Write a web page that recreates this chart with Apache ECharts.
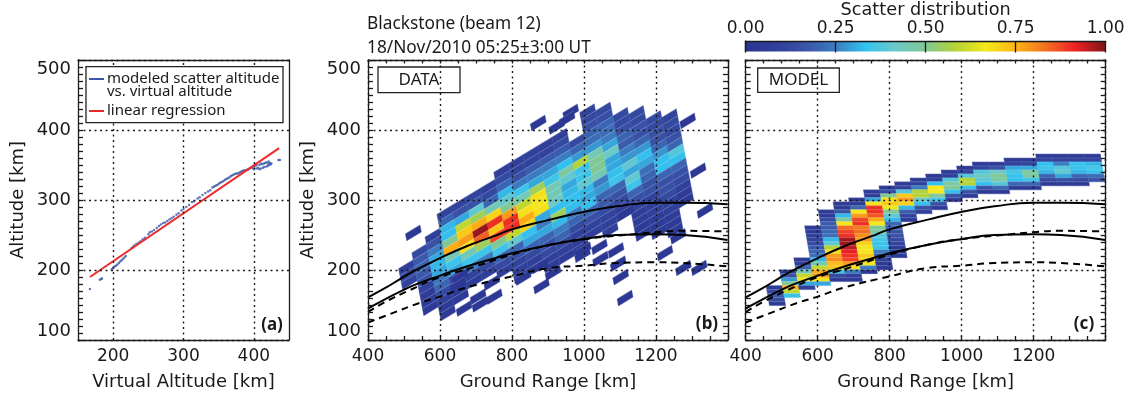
<!DOCTYPE html>
<html>
<head>
<meta charset="utf-8">
<style>
  html, body { margin: 0; background: #fff; }
  #chart { width: 1131px; height: 396px; }
</style>
<script src="https://cdn.jsdelivr.net/npm/echarts@6/dist/echarts.min.js"></script>
</head>
<body>
<div id="chart"></div>
<script>
// panel (a): virtual altitude vs scatter altitude
const virtualAlt = [167,181,183,184,198,200,202,204,206,208,210,212,214,216,218,226,228,230,233,236,239,242,245,250,252,255,258,262,265,268,271,274,277,280,283,286,290,293,297,300,304,308,312,315,320,323,327,331,335,338,341,343,345,347,349,351,353,355,357,359,361,363,365,367,369,371,373,375,377,379,381,383,385,387,389,391,392,394,396,398,400,400,402,404,404,406,408,408,410,410,412,413,414,415,416,418,418,420,420,421,422,423,424,425,435,437];
const scatterAlt = [173,186,187,188,201,203,205,206,208,210,212,214,216,218,220,231,233,235,237,239,241,244,246,251,254,255,257,260,263,265,267,268,270,272,274,276,279,281,285,287,290,293,297,298,302,304,307,310,312,314,318,319,320,321,322,324,325,326,327,329,330,331,332,334,335,336,337,338,338,339,340,341,342,342,343,343,344,345,346,346,348,344,349,345,350,346,350,344,352,345,351,346,352,347,353,348,354,349,352,355,350,353,351,352,357,357];
const regressionX = [167, 436];
const regressionY = [190, 374];
const panelAGridX = [200, 300, 400];

// panels (b) and (c): ionospheric layer curves, same in both
const curveRange = [400, 447, 489, 526, 600, 674, 748, 800, 906, 998, 1091, 1199, 1276, 1399];
const upperSolid = [161, 174, 187, 198, 217, 234, 248, 258, 272, 283, 291, 296, 296, 294];
const lowerSolid = [145, 158, 169, 178, 192, 205, 216, 224, 236, 244, 250, 251, 250, 243];
const upperDashRange = [400, 450, 511, 600, 674, 800, 906, 998, 1136, 1199, 1276, 1399];
const upperDash = [140, 155, 170, 190, 201, 222, 236, 244, 251, 254, 256, 255];
const lowerDashRange = [400, 461, 544, 600, 674, 800, 906, 998, 1091, 1199, 1276, 1399];
const lowerDash = [125, 137, 153, 162, 175, 191, 203, 206, 210, 211, 210, 205];

// panel (b) DATA: normalised scatter, one list per radar gate, top cell first
const dataTopRow = [2,3,4,6,6,6,6,7,7,7,7,7,5,8,7,5,4,2,1];
const dataCells = [
  [.08,.12,.1],
  [.12,.18,.2,.18,.15,.1,.06,.05,.05],
  [.08,.15,.25,.3,.32,.3,.25,.2,.12,.08,.05,.05],
  [.1,.2,.32,.33,.5,.76,.45,.35,.3,.1,.08,.06,.05],
  [.1,.15,.3,.6,.72,.78,.68,.45,.35,.25,.1,.06],
  [.1,.15,.4,.55,.76,.98,.85,.55,.35,.25,.12,.08],
  [.08,.12,.2,.45,.7,.9,.72,.88,.5,.35,.2,.12,.08],
  [.08,.12,.2,.32,.4,.5,.78,.9,.9,.6,.4,.2,.15,.1,.08,.06],
  [.08,.1,.15,.25,.35,.45,.6,.68,.76,.7,.33,.3,.2,.12,.08,.06],
  [.08,.1,.18,.25,.3,.55,.68,.67,.68,.3,.25,.3,.2,.15,.12,.08,.06],
  [.08,.1,.18,.25,.3,.35,.45,.45,.42,.33,.55,.32,.25,.2,.12,.08,.06],
  [.08,.12,.18,.25,.33,.48,.4,.3,.32,.33,.33,.25,.2,.12,.08,.06,.05,.05],
  [.12,.2,.28,.58,.35,.35,.4,.32,.3,.33,.2,.15,.1,.08],
  [.1,.12,.15,.2,.22,.28,.45,.5,.5,.45,.25,.28,.2,.18,.12,.1,.08,.08],
  [.12,.14,.2,.22,.25,.3,.42,.3,.3,.33,.35,.2,.15,.12,.08,.08],
  [.12,.12,.15,.2,.18,.25,.28,.4,.3,.4,.35,.2,.15,.1,.07,.07,.05,.05],
  [.12,.12,.16,.15,.2,.28,.33,.3,.22,.2,.15,.15,.1,.08,.08,.06,.05,.05],
  [.12,.12,.15,.15,.2,.28,.33,.33,.2,.15,.15,.12,.1,.08,.07,.05,.05],
  [.1,.12,.12,.15,.2,.38,.33,.2,.15,.12,.08,.06,.05]
];
// lone weak returns around the main patch
const loneRange = [873,924,963,953,526,1288,1317,1336,1114,1102,1095,1046,1089,1043,998,1117,1225,1262,1276,1320,667,706,711,751,744,882,656,831,914,878,650];
const loneAlt = [410,405,426,416,253,413,342,285,160,190,209,216,228,233,229,282,224,248,203,203,145,162,151,162,182,177,191,189,196,206,179];

// panel (c) MODEL: same idea, rows are flat
const modelTopRow = [34,30,27,19,15,13,12,10,9,8,7,6,5,4,3,3,2,2,1,1,1,1];
const modelCells = [
  [.05,.12,.18,.12,.06],
  [.05,.15,.28,.5,.76,.6,.35],
  [.05,.08,.2,.45,.6,.68,.3,.08],
  [.05,.05,.08,.1,.12,.18,.2,.22,.32,.45,.6,.76,.78,.68,.3],
  [.05,.05,.12,.18,.18,.2,.22,.32,.4,.58,.68,.78,.8,.74,.72,.35,.12,.05],
  [.05,.05,.15,.32,.48,.67,.84,.88,.9,.97,.98,.95,.92,.9,.88,.78,.68,.25,.08,.05],
  [.05,.05,.2,.67,.78,.88,.9,.82,.84,.8,.78,.7,.67,.67,.72,.7,.66,.25,.05],
  [.05,.06,.3,.67,.9,.9,.86,.76,.67,.5,.48,.38,.36,.34,.34,.25,.15,.08,.05,.04],
  [.05,.12,.5,.68,.72,.66,.5,.4,.32,.2,.18,.15,.15,.12,.1,.06,.05,.04],
  [.05,.08,.38,.72,.78,.7,.32,.18,.1,.05],
  [.05,.08,.25,.58,.58,.42,.33,.15,.08],
  [.05,.08,.33,.67,.67,.5,.35,.15,.06],
  [.05,.08,.38,.48,.5,.33,.15,.06],
  [.05,.1,.38,.58,.58,.33,.15,.05],
  [.05,.1,.38,.42,.4,.33,.15,.05],
  [.05,.15,.42,.5,.48,.38,.2,.05],
  [.05,.08,.3,.36,.34,.33,.2,.05],
  [.05,.1,.3,.48,.48,.35,.2,.05],
  [.05,.1,.33,.35,.32,.2,.12,.05],
  [.05,.1,.25,.38,.4,.3,.15,.05],
  [.05,.1,.34,.34,.32,.2,.12,.05],
  [.05,.1,.32,.36,.34,.22,.15]
];

const scatterColors = ["#2b3490","#2f3f9a","#3a55a8","#3b7cc0","#33c3f0","#6cc9c8","#80c896","#b5d335","#f5e91a","#fdb515","#f37021","#ed2024","#7d1416"];
const colorbarTicks = ["0.00", "0.25", "0.50", "0.75", "1.00"];

const labelFont = "DejaVu Sans";
const textFont = "Noto Sans";
const ink = "#1a1a1a";

// cell shape in km, gate step and row step are sheared in (b)
const dataStep = { x0: 496.1, y0: 172.1, wx: 40.4, wy: 12.54, hx: -3.7, hy: 9.97 };
const modelStep = { x0: 393.3, y0: 371.5, wx: 45, hx: 1.86, hy: -5.7 };

const dataPoints = [];
dataCells.forEach((col, c) => {
  col.forEach((v, i) => {
    const r = dataTopRow[c] - i;
    dataPoints.push([
      dataStep.x0 + dataStep.wx * c + dataStep.hx * r,
      dataStep.y0 + dataStep.wy * c + dataStep.hy * r,
      v,
    ]);
  });
});
loneRange.forEach((x, i) => {
  dataPoints.push([
    x - (dataStep.wx + dataStep.hx) / 2,
    loneAlt[i] - (dataStep.wy + dataStep.hy) / 2,
    0.03,
  ]);
});

const modelPoints = [];
modelCells.forEach((col, c) => {
  col.forEach((v, i) => {
    const k = modelTopRow[c] + i;
    modelPoints.push([modelStep.x0 + modelStep.wx * c + modelStep.hx * k, modelStep.y0 + modelStep.hy * k, v]);
  });
});

// filled cell plus one pale line along its upper edge
function cellItem(api, pts) {
  const px = pts.map((p) => api.coord(p));
  const color = api.visual("color");
  return {
    type: "group",
    children: [
      { type: "polygon", shape: { points: px }, style: { fill: color, stroke: color, lineWidth: 0.4 } },
      {
        type: "line",
        shape: { x1: px[3][0], y1: px[3][1], x2: px[2][0], y2: px[2][1] },
        style: { stroke: "rgba(255,255,255,0.24)", lineWidth: 0.7 },
      },
    ],
  };
}

function renderDataCell(params, api) {
  const x = api.value(0), y = api.value(1);
  const s = dataStep;
  return cellItem(api, [
    [x, y],
    [x + s.wx, y + s.wy],
    [x + s.wx + s.hx, y + s.wy + s.hy],
    [x + s.hx, y + s.hy],
  ]);
}

function renderModelCell(params, api) {
  const x = api.value(0), y = api.value(1);
  const s = modelStep;
  return cellItem(api, [
    [x + s.hx, y + s.hy],
    [x + s.wx + s.hx, y + s.hy],
    [x + s.wx, y],
    [x, y],
  ]);
}

function renderColorbar(params, api) {
  const a = api.coord([0, 1]), b = api.coord([1, 0]);
  return {
    type: "rect",
    shape: { x: a[0], y: a[1], width: b[0] - a[0], height: b[1] - a[1] },
    style: {
      fill: new echarts.graphic.LinearGradient(0, 0, 1, 0,
        scatterColors.map((c, i) => ({ offset: i / (scatterColors.length - 1), color: c }))),
    },
  };
}

const grids = [
  { left: 78, top: 60, width: 211, height: 280.7 },
  { left: 368, top: 60, width: 360, height: 280.7 },
  { left: 745.7, top: 60, width: 360, height: 280.7 },
  { left: 745.7, top: 40, width: 360, height: 11.5 },
];

const lineStyle = { color: ink, width: 1.3 };
const dotted = { show: true, lineStyle: { color: ink, type: [2, 3.5], width: 1.4 } };

function bottomAxis(grid, min, max, interval, name, minor) {
  return {
    type: "value", gridIndex: grid, min, max, interval, position: "bottom", z: 6,
    name, nameLocation: "middle", nameGap: 33,
    nameTextStyle: { fontFamily: labelFont, fontSize: 18, color: ink },
    axisLine: { onZero: false, lineStyle },
    axisTick: { show: minor > 0, inside: true, length: 4, lineStyle },
    minorTick: { show: minor > 0, splitNumber: minor || 5, length: 4, lineStyle },
    axisLabel: {
      fontFamily: labelFont, fontSize: 17, color: ink, margin: 8,
      showMinLabel: grid > 0, showMaxLabel: false,
      formatter: (v) => (v % 100 === 0 ? String(v) : ""),
    },
    splitLine: grid > 0 ? dotted : { show: false },
  };
}

function leftAxis(grid, showTitle) {
  return {
    type: "value", gridIndex: grid, min: 100, max: 500, interval: 100, position: "left", z: 6,
    name: showTitle ? "Altitude [km]" : "", nameLocation: "middle", nameGap: 51, nameRotate: 90,
    nameTextStyle: { fontFamily: labelFont, fontSize: 18, color: ink },
    axisLine: { onZero: false, lineStyle },
    axisTick: { show: true, inside: true, length: 5, lineStyle },
    minorTick: { show: true, splitNumber: 10, length: 5, lineStyle },
    axisLabel: {
      fontFamily: labelFont, fontSize: 18, color: ink, margin: 7, show: true,
      verticalAlignMinLabel: "bottom", verticalAlignMaxLabel: "top",
    },
    splitLine: dotted,
  };
}

function topAxis(grid, min, max, interval, minor) {
  return {
    type: "value", gridIndex: grid, min, max, interval, position: "top", z: 6,
    axisLine: { onZero: false, lineStyle },
    axisTick: { show: minor > 0, inside: true, length: 3.5, lineStyle },
    minorTick: { show: minor > 0, splitNumber: minor || 5, length: 3.5, lineStyle },
    axisLabel: { show: false },
    splitLine: { show: false },
  };
}

function rightAxis(grid, minor) {
  return {
    type: "value", gridIndex: grid, min: 100, max: 500, interval: 100, position: "right", z: 6,
    axisLine: { onZero: false, lineStyle },
    axisTick: { show: minor > 0, inside: true, length: 5, lineStyle },
    minorTick: { show: minor > 0, splitNumber: minor || 5, length: 5, lineStyle },
    axisLabel: { show: false },
    splitLine: { show: false },
  };
}

const xAxes = [
  bottomAxis(0, 150, 450, 50, "Virtual Altitude [km]", 0),
  bottomAxis(1, 400, 1400, 200, "Ground Range [km]", 4),
  bottomAxis(2, 400, 1400, 200, "Ground Range [km]", 4),
  {
    type: "value", gridIndex: 3, min: 0, max: 1, interval: 0.25, position: "top", z: 6,
    name: "Scatter distribution", nameLocation: "middle", nameGap: 22,
    nameTextStyle: { fontFamily: labelFont, fontSize: 17.7, color: ink },
    axisLine: { onZero: false, lineStyle },
    axisTick: { inside: true, length: 11.5, lineStyle },
    axisLabel: {
      fontFamily: labelFont, fontSize: 17, color: ink, margin: 4,
      formatter: (v) => colorbarTicks[Math.round(v * 4)],
    },
    splitLine: { show: false },
  },
  topAxis(0, 150, 450, 50, 0),
  topAxis(1, 400, 1400, 200, 4),
  topAxis(2, 400, 1400, 200, 4),
];

const yAxes = [
  leftAxis(0, true),
  leftAxis(1, true),
  Object.assign(leftAxis(2, false), { axisLabel: { show: false } }),
  {
    type: "value", gridIndex: 3, min: 0, max: 1, position: "left", z: 6,
    axisLine: { onZero: false, lineStyle }, axisTick: { show: false },
    axisLabel: { show: false }, splitLine: { show: false },
  },
  rightAxis(0, 0),
  rightAxis(1, 10),
  rightAxis(2, 10),
];

function layerCurves(axis) {
  const line = (xs, ys, dashed) => ({
    type: "line", xAxisIndex: axis, yAxisIndex: axis, smooth: true, showSymbol: false, z: 4,
    data: xs.map((x, i) => [x, ys[i]]),
    lineStyle: { color: "#000", width: 2, type: dashed ? [7, 5] : "solid" },
  });
  return [
    line(curveRange, upperSolid, false),
    line(curveRange, lowerSolid, false),
    line(upperDashRange, upperDash, true),
    line(lowerDashRange, lowerDash, true),
  ];
}

const series = [
  {
    type: "scatter", xAxisIndex: 0, yAxisIndex: 0, symbolSize: 2.5, z: 3,
    data: virtualAlt.map((x, i) => [x, scatterAlt[i]]),
    itemStyle: { color: "#3a58a8" },
    markLine: {
      silent: true, symbol: "none", label: { show: false },
      lineStyle: { color: ink, type: [2, 3.5], width: 1.4 },
      data: panelAGridX.map((x) => ({ xAxis: x })),
    },
  },
  {
    type: "line", xAxisIndex: 0, yAxisIndex: 0, showSymbol: false, z: 4,
    data: regressionX.map((x, i) => [x, regressionY[i]]),
    lineStyle: { color: "#ee2a2a", width: 2 },
  },
  {
    type: "custom", xAxisIndex: 1, yAxisIndex: 1, renderItem: renderDataCell, z: 3,
    data: dataPoints, encode: { x: 0, y: 1 },
  },
  {
    type: "custom", xAxisIndex: 2, yAxisIndex: 2, renderItem: renderModelCell, z: 3,
    data: modelPoints, encode: { x: 0, y: 1 },
  },
  {
    type: "custom", xAxisIndex: 3, yAxisIndex: 3, renderItem: renderColorbar, z: 3,
    data: [[0, 1]], encode: { x: 0, y: 1 },
  },
].concat(layerCurves(1), layerCurves(2));

function txt(x, y, text, fontSize, opts) {
  return {
    type: "text", x, y, z: 20,
    style: Object.assign({
      text, fontFamily: textFont, fontSize, fill: ink, textVerticalAlign: "middle", textAlign: "left",
    }, opts || {}),
  };
}

function box(x, y, w, h, fill) {
  return {
    type: "rect", z: 19, shape: { x, y, width: w, height: h },
    style: { fill: fill, stroke: "#222", lineWidth: 1.3 },
  };
}

const graphics = [
  // panel (a) legend
  box(86, 66.7, 197, 56, "#fff"),
  { type: "line", z: 20, shape: { x1: 89, y1: 79, x2: 104, y2: 79 }, style: { stroke: "#3a58a8", lineWidth: 2 } },
  { type: "line", z: 20, shape: { x1: 89, y1: 111, x2: 104, y2: 111 }, style: { stroke: "#ee2a2a", lineWidth: 2 } },
  txt(107, 79, "modeled scatter altitude", 15),
  txt(107, 92, "vs. virtual altitude", 15),
  txt(107, 111, "linear regression", 15),
  // panel tags
  box(378, 67, 82, 25.7, "transparent"),
  txt(419, 80, "DATA", 17, { textAlign: "center" }),
  box(757.7, 68, 81.6, 24.3, "transparent"),
  txt(798.5, 80, "MODEL", 17, { textAlign: "center" }),
  txt(272, 325, "(a)", 17, { fontWeight: "bold", textAlign: "center" }),
  txt(707, 324, "(b)", 17, { fontWeight: "bold", textAlign: "center" }),
  txt(1084, 324, "(c)", 17, { fontWeight: "bold", textAlign: "center" }),
  // heading
  txt(367, 24, "Blackstone (beam 12)", 17.3),
  txt(367, 48, "18/Nov/2010 05:25\u00b13:00 UT", 17.3),
];

const chart = echarts.init(document.getElementById("chart"), null, { renderer: "canvas" });
chart.setOption({
  animation: false,
  backgroundColor: "#fff",
  grid: grids,
  xAxis: xAxes,
  yAxis: yAxes,
  visualMap: {
    show: false, type: "continuous", min: 0, max: 1, dimension: 2, seriesIndex: [2, 3],
    inRange: { color: scatterColors },
  },
  series,
  graphic: graphics,
});
</script>
</body>
</html>
